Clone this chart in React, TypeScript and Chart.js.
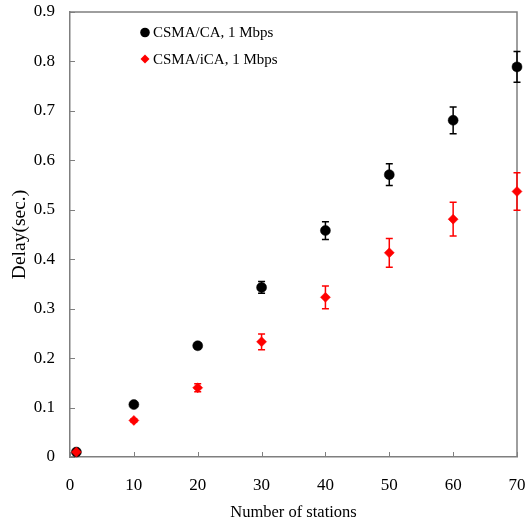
import React, { useEffect, useRef } from "react";
import { Chart, registerables } from "chart.js";

Chart.register(...registerables);

const stations = [1, 10, 20, 30, 40, 50, 60, 70];
const csmaCA = [0.01, 0.106, 0.225, 0.343, 0.458, 0.571, 0.681, 0.789];
const csmaCAErr = [0.002, 0.003, 0.005, 0.012, 0.018, 0.022, 0.027, 0.031];
const csmaICA = [0.01, 0.074, 0.14, 0.233, 0.323, 0.413, 0.481, 0.537];
const csmaICAErr = [0.002, 0.003, 0.008, 0.016, 0.023, 0.029, 0.034, 0.038];
const seriesLabels = ["CSMA/CA, 1 Mbps", "CSMA/iCA, 1 Mbps"];
const xTicks = [0, 10, 20, 30, 40, 50, 60, 70];
const yTicks = [0, 0.1, 0.2, 0.3, 0.4, 0.5, 0.6, 0.7, 0.8, 0.9];

const FONT = "'Liberation Serif', 'Times New Roman', serif";
const AXIS_COLOR = "#7f7f7f";

const errorBarPlugin = {
  id: "errorBars",
  beforeDatasetsDraw(chart: any) {
    const { ctx, scales } = chart;
    const xs = scales.x;
    const ys = scales.y;
    chart.data.datasets.forEach((ds: any) => {
      const errs: number[] = ds.errors;
      if (!errs) return;
      ctx.save();
      ctx.strokeStyle = ds.errColor;
      ctx.lineWidth = 1.5;
      ds.data.forEach((p: any, i: number) => {
        const px = xs.getPixelForValue(p.x);
        const top = ys.getPixelForValue(p.y + errs[i]);
        const bot = ys.getPixelForValue(p.y - errs[i]);
        ctx.beginPath();
        ctx.moveTo(px, top);
        ctx.lineTo(px, bot);
        ctx.moveTo(px - 3.5, top);
        ctx.lineTo(px + 3.5, top);
        ctx.moveTo(px - 3.5, bot);
        ctx.lineTo(px + 3.5, bot);
        ctx.stroke();
      });
      ctx.restore();
    });
  },
};

const framePlugin = {
  id: "frame",
  beforeDatasetsDraw(chart: any) {
    const { ctx, chartArea: a, scales } = chart;
    ctx.save();
    ctx.strokeStyle = AXIS_COLOR;
    ctx.lineWidth = 1.5;
    ctx.beginPath();
    ctx.moveTo(a.left, a.top);
    ctx.lineTo(a.right, a.top);
    ctx.lineTo(a.right, a.bottom);
    ctx.stroke();
    ctx.lineWidth = 1;
    ctx.beginPath();
    xTicks.forEach((v) => {
      const px = Math.round(scales.x.getPixelForValue(v)) + 0.5;
      ctx.moveTo(px, a.bottom);
      ctx.lineTo(px, a.bottom - 5);
    });
    yTicks.forEach((v) => {
      const py = Math.round(scales.y.getPixelForValue(v)) + 0.5;
      ctx.moveTo(a.left, py);
      ctx.lineTo(a.left + 5, py);
    });
    ctx.stroke();
    ctx.restore();
  },
  afterDraw(chart: any) {
    const { ctx } = chart;
    ctx.save();
    const lx = 145;
    const rows = [32.5, 59];
    ctx.font = `15px ${FONT}`;
    ctx.textBaseline = "middle";
    ctx.textAlign = "left";
    chart.data.datasets
      .slice()
      .sort((p: any, q: any) => p.legendIndex - q.legendIndex)
      .forEach((ds: any, i: number) => {
        const y = rows[i];
        ctx.fillStyle = ds.backgroundColor;
        ctx.beginPath();
        if (ds.pointStyle === "circle") {
          ctx.arc(lx, y, 4.8, 0, Math.PI * 2);
        } else {
          ctx.moveTo(lx, y - 4.5);
          ctx.lineTo(lx + 4.5, y);
          ctx.lineTo(lx, y + 4.5);
          ctx.lineTo(lx - 4.5, y);
          ctx.closePath();
        }
        ctx.fill();
        ctx.fillStyle = "#000";
        ctx.fillText(ds.label, 153, y + 1);
      });
    ctx.restore();
  },
};

export default function App() {
  const ref = useRef<HTMLCanvasElement | null>(null);

  useEffect(() => {
    if (!ref.current) return;
    const chart = new Chart(ref.current, {
      type: "scatter",
      data: {
        datasets: [
          {
            label: seriesLabels[1],
            data: stations.map((x, i) => ({ x, y: csmaICA[i] })),
            errors: csmaICAErr,
            errColor: "#ff0000",
            legendIndex: 1,
            order: 0,
            clip: false,
            pointStyle: "rectRot",
            pointRadius: 5,
            backgroundColor: "#ff0000",
            borderColor: "#ff0000",
            borderWidth: 0.5,
          } as any,
          {
            label: seriesLabels[0],
            data: stations.map((x, i) => ({ x, y: csmaCA[i] })),
            errors: csmaCAErr,
            errColor: "#000000",
            legendIndex: 0,
            order: 1,
            clip: false,
            pointStyle: "circle",
            pointRadius: 5,
            backgroundColor: "#000000",
            borderColor: "#000000",
            borderWidth: 0.5,
          } as any,
        ],
      },
      options: {
        animation: false,
        responsive: true,
        maintainAspectRatio: false,
        layout: { padding: { top: 12, right: 10, left: 0, bottom: 0 } },
        plugins: {
          legend: { display: false },
          tooltip: { enabled: false },
        },
        scales: {
          x: {
            type: "linear",
            min: 0,
            max: 70,
            afterBuildTicks: (s: any) => {
              s.ticks = xTicks.map((v) => ({ value: v }));
            },
            afterFit: (s: any) => {
              s.height = 71;
            },
            grid: { display: false, drawTicks: true, tickLength: 17 },
            border: { display: true, color: AXIS_COLOR, width: 1.5 },
            ticks: {
              padding: 1,
              color: "#000",
              font: { family: FONT, size: 17 },
              maxRotation: 0,
            },
            title: {
              display: true,
              text: "Number of stations",
              color: "#000",
              font: { family: FONT, size: 16.5 },
              padding: { top: 4, bottom: 5 },
            },
          },
          y: {
            type: "linear",
            min: 0,
            max: 0.9,
            afterBuildTicks: (s: any) => {
              s.ticks = yTicks.map((v) => ({ value: v }));
            },
            afterFit: (s: any) => {
              s.width = 70;
            },
            grid: { display: false, drawTicks: true, tickLength: 14 },
            border: { display: true, color: AXIS_COLOR, width: 1.5 },
            ticks: {
              padding: 1,
              color: "#000",
              font: { family: FONT, size: 17 },
              callback: (v: any) => String(Number(Number(v).toFixed(1))),
            },
            title: {
              display: true,
              text: "Delay(sec.)",
              color: "#000",
              font: { family: FONT, size: 19.5 },
              padding: { top: 8, bottom: 0 },
            },
          },
        },
      } as any,
      plugins: [framePlugin, errorBarPlugin],
    });
    return () => chart.destroy();
  }, []);

  return (
    <div style={{ position: "fixed", left: 0, top: 0, width: 527, height: 528, background: "#fff" }}>
      <canvas ref={ref} />
    </div>
  );
}
